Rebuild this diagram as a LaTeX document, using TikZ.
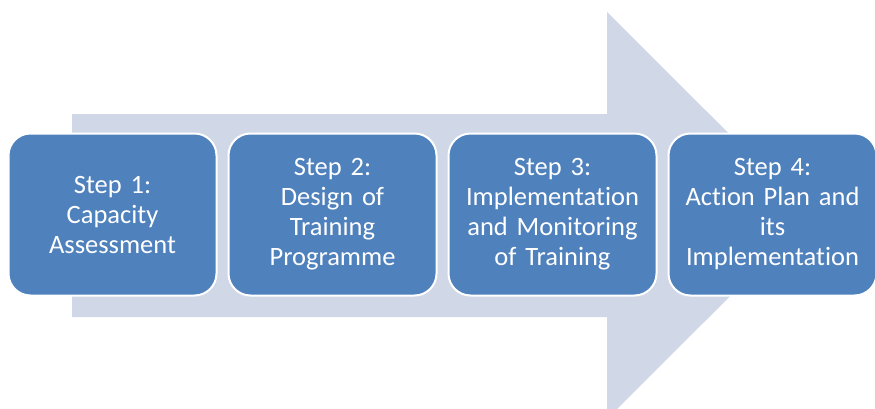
\documentclass[tikz,border=0pt]{standalone}
\usepackage{fontspec}
\setmainfont{Carlito}[Ligatures=NoCommon]
\usetikzlibrary{positioning}
\definecolor{stageblue}{RGB}{79,129,189}
\definecolor{arrowgray}{RGB}{208,216,232}

\begin{document}
\begin{tikzpicture}[x=1pt,y=1pt,node distance=10pt,
    stage node/.style={rectangle,rounded corners=22pt,draw=white,line width=2pt,fill=stageblue,text=white,
      minimum width=208pt,minimum height=162pt,inner xsep=2pt,text width=200pt,align=center,font=\fontsize{26.5}{30}\selectfont}]
   \useasboundingbox (0,0) rectangle (875,408);
   \clip (0,0) rectangle (875,408);
   % big arrow behind the steps
   \fill[arrowgray] (72,294) -- (607,294) -- (607,396) -- (811,192.5) -- (607,-11) -- (607,91) -- (72,91) -- cycle;
   \node[stage node] (s1) at (112.5,193.5) {Step 1:\\Capacity\\Assessment};
   \node[stage node,right=of s1] (s2) {Step 2:\\Design of\\Training\\Programme};
   \node[stage node,right=of s2] (s3) {Step 3:\\Implementation\\and Monitoring\\of Training};
   \node[stage node,right=of s3] (s4) {Step 4:\\Action Plan and\\its\\Implementation};
\end{tikzpicture}
\end{document}
